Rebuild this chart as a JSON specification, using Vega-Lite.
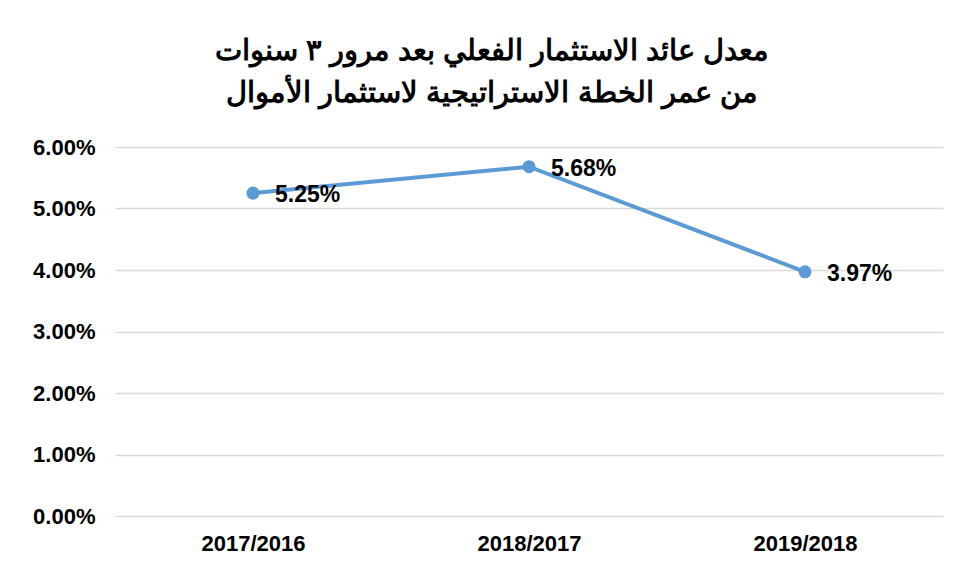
{
  "$schema": "https://vega.github.io/schema/vega-lite/v6.json",
  "autosize": {"type": "none"},
  "width": 828,
  "height": 369,
  "padding": {"left": 115, "top": 147, "right": 16, "bottom": 53},
  "background": "white",
  "title": {
    "text": ["معدل عائد الاستثمار الفعلي بعد مرور ٣ سنوات", "من عمر الخطة الاستراتيجية لاستثمار الأموال"],
    "font": "Liberation Sans",
    "fontSize": 29,
    "fontWeight": "bold",
    "color": "#000000",
    "lineHeight": 42,
    "anchor": "middle",
    "dx": -37,
    "offset": 28
  },
  "data": {
    "values": [
      {"year": "2017/2016", "rate": 0.0525},
      {"year": "2018/2017", "rate": 0.0568},
      {"year": "2019/2018", "rate": 0.0397}
    ]
  },
  "encoding": {
    "x": {
      "field": "year", "type": "ordinal", "sort": null,
      "scale": {"type": "point", "padding": 0.5},
      "axis": {"title": null, "labelAngle": 0, "labelFont": "Liberation Sans", "labelFontSize": 22, "labelFontWeight": "bold", "labelColor": "#000", "domain": false, "ticks": false, "labelPadding": 17}
    },
    "y": {
      "field": "rate", "type": "quantitative",
      "scale": {"domain": [0, 0.06], "nice": false},
      "axis": {"title": null, "format": ".2%", "values": [0, 0.01, 0.02, 0.03, 0.04, 0.05, 0.06], "labelFont": "Liberation Sans", "labelFontSize": 22, "labelFontWeight": "bold", "labelColor": "#000", "domain": false, "ticks": false, "labelPadding": 20, "gridColor": "#d9d9d9", "gridWidth": 1.5}
    }
  },
  "layer": [
    {"mark": {"type": "line", "color": "#5B9BD5", "strokeWidth": 4}},
    {"mark": {"type": "point", "filled": true, "color": "#5B9BD5", "size": 170, "opacity": 1}},
    {"mark": {"type": "text", "align": "left", "baseline": "middle", "dx": 22, "dy": 2, "font": "Liberation Sans", "fontSize": 23, "fontWeight": "bold", "color": "#000"},
     "encoding": {"text": {"field": "rate", "type": "quantitative", "format": ".2%"}}}
  ],
  "config": {"view": {"stroke": null}}
}
